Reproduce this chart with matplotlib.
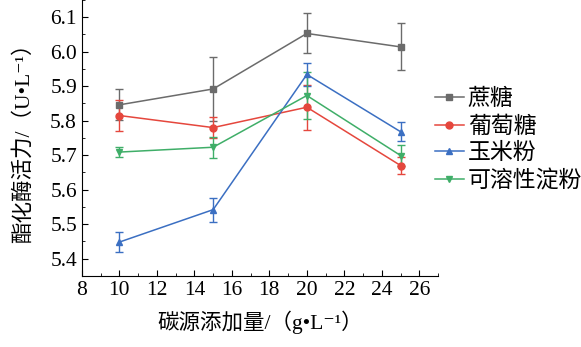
import matplotlib
matplotlib.use('Agg')
import matplotlib.pyplot as plt
from matplotlib.lines import Line2D
from matplotlib.ticker import MultipleLocator, FormatStrFormatter

plt.rcParams['font.family'] = ['Liberation Serif', 'Noto Sans CJK SC', 'DejaVu Sans']

# data
x = [10, 15, 20, 25]
names = ['蔗糖', '葡萄糖', '玉米粉', '可溶性淀粉']
sucrose = [5.846, 5.892, 6.053, 6.014]
sucrose_err = [0.045, 0.093, 0.058, 0.068]
glucose = [5.815, 5.780, 5.839, 5.670]
glucose_err = [0.045, 0.030, 0.065, 0.025]
corn = [5.448, 5.542, 5.934, 5.768]
corn_err = [0.030, 0.035, 0.033, 0.028]
starch = [5.709, 5.723, 5.873, 5.699]
starch_err = [0.015, 0.030, 0.068, 0.030]

series = [sucrose, glucose, corn, starch]
errs = [sucrose_err, glucose_err, corn_err, starch_err]
colors = ['#6b6b6b', '#e5473d', '#3b6fc2', '#3fae68']
markers = ['s', 'o', '^', 'v']

fig = plt.figure(figsize=(5.81, 3.47), dpi=100)
ax = fig.add_axes([0.141, 0.205, 0.613, 0.795])

handles = []
for y, e, c, m, n in zip(series, errs, colors, markers, names):
    ax.errorbar(x, y, yerr=e, color=c, marker=m, ms=5, lw=1.1,
                elinewidth=1.0, capsize=3, capthick=1.0)
    handles.append(Line2D([], [], color=c, marker=m, ms=5, lw=1.1, label=n))

ax.set_xlim(8, 27)
ax.set_ylim(5.35, 6.15)
ax.xaxis.set_major_locator(MultipleLocator(2))
ax.xaxis.set_minor_locator(MultipleLocator(1))
ax.yaxis.set_major_locator(MultipleLocator(0.1))
ax.yaxis.set_minor_locator(MultipleLocator(0.05))
ax.tick_params(which='both', direction='in', labelsize=15.5)
ax.tick_params(which='major', length=4)
ax.tick_params(which='minor', length=2)
ax.yaxis.set_major_formatter(FormatStrFormatter('%.1f'))
ax.spines['top'].set_visible(False)
ax.spines['right'].set_visible(False)

ax.set_xlabel('碳源添加量/（g•L⁻¹）', fontsize=15.5, labelpad=8)
ax.set_ylabel('酯化酶活力/（U•L⁻¹）', fontsize=15.5, labelpad=12)

ax.legend(handles=handles, loc='center left', bbox_to_anchor=(0.99, 0.49),
          frameon=False, fontsize=16.5, handlelength=1.3, handletextpad=0.15,
          labelspacing=0.25, borderaxespad=0.0, borderpad=0.0)

plt.savefig('out.png', dpi=100)
